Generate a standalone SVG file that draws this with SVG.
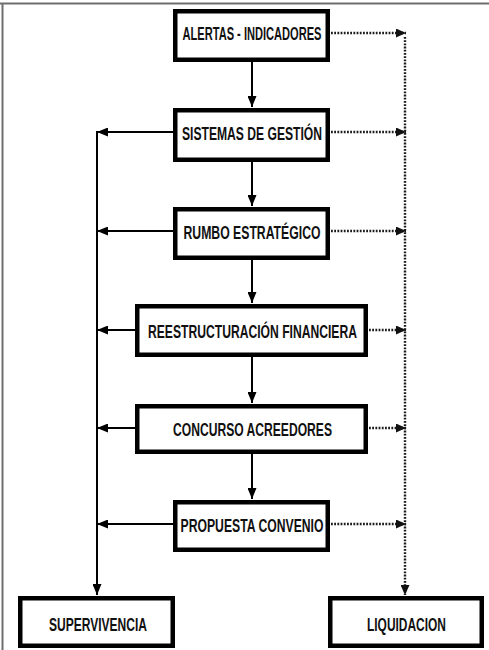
<svg xmlns="http://www.w3.org/2000/svg" width="489" height="650" viewBox="0 0 489 650">
  <style>
    .box { fill: #ffffff; stroke: #000000; stroke-width: 4.5; }
    .lbl { font-family: "Liberation Sans", Arial, sans-serif; font-weight: bold; font-size: 19px; fill: #111111; text-anchor: middle; }
    .solid { fill: none; stroke: #000000; stroke-width: 2; }
    .dot { fill: none; stroke: #1a1a1a; stroke-width: 2.4; stroke-dasharray: 1.8 1.4; }
    .frame { fill: none; stroke: #6e6e6e; stroke-width: 2; }
  </style>
  <defs>
    <marker id="head" markerUnits="userSpaceOnUse" markerWidth="11" markerHeight="9" refX="11" refY="4.5" orient="auto">
      <path d="M0,0 L11,4.5 L0,9 z" fill="#000000"/>
    </marker>
    <marker id="dhead" markerUnits="userSpaceOnUse" markerWidth="10" markerHeight="9" refX="10" refY="4.5" orient="auto">
      <path d="M0,0 L10,4.5 L0,9 z" fill="#111111"/>
    </marker>
  </defs>

  <rect width="489" height="650" fill="#ffffff"/>
  <!-- page frame -->
  <path class="frame" d="M0,3.5 H489 M2.5,3.5 V650"/>

  <!-- connectors -->
  <g id="connectors">
    <!-- main chain -->
    <line class="solid" x1="252" y1="62" x2="252" y2="107" marker-end="url(#head)"/>
    <line class="solid" x1="252" y1="162" x2="252" y2="206" marker-end="url(#head)"/>
    <line class="solid" x1="252" y1="259" x2="252" y2="303" marker-end="url(#head)"/>
    <line class="solid" x1="252" y1="357" x2="252" y2="403" marker-end="url(#head)"/>
    <line class="solid" x1="252" y1="454" x2="252" y2="499" marker-end="url(#head)"/>
    <!-- left branches to survival -->
    <line class="solid" x1="173" y1="132" x2="97" y2="132" marker-end="url(#head)"/>
    <line class="solid" x1="173" y1="231" x2="97" y2="231" marker-end="url(#head)"/>
    <line class="solid" x1="135" y1="330" x2="97" y2="330" marker-end="url(#head)"/>
    <line class="solid" x1="135" y1="428" x2="97" y2="428" marker-end="url(#head)"/>
    <line class="solid" x1="173" y1="524" x2="97" y2="524" marker-end="url(#head)"/>
    <line class="solid" x1="97" y1="131" x2="97" y2="595" marker-end="url(#head)"/>
    <!-- right branches to liquidation -->
    <line class="dot" x1="331" y1="33" x2="406" y2="33" marker-end="url(#dhead)"/>
    <line class="dot" x1="331" y1="132" x2="406" y2="132" marker-end="url(#dhead)"/>
    <line class="dot" x1="331" y1="231" x2="406" y2="231" marker-end="url(#dhead)"/>
    <line class="dot" x1="369" y1="330" x2="406" y2="330" marker-end="url(#dhead)"/>
    <line class="dot" x1="369" y1="428" x2="406" y2="428" marker-end="url(#dhead)"/>
    <line class="dot" x1="331" y1="524" x2="406" y2="524" marker-end="url(#dhead)"/>
    <line class="dot" x1="405" y1="37" x2="405" y2="595" marker-end="url(#dhead)"/>
  </g>

  <!-- nodes -->
  <g id="alertas">
    <rect class="box" x="175.25" y="11.25" width="152.5" height="48.5"/>
    <text class="lbl" x="252" y="40" textLength="139" lengthAdjust="spacingAndGlyphs">ALERTAS - INDICADORES</text>
  </g>
  <g id="sistemas">
    <rect class="box" x="175.25" y="110.25" width="152.5" height="49.5"/>
    <text class="lbl" x="252" y="139.5" textLength="140" lengthAdjust="spacingAndGlyphs">SISTEMAS DE GESTIÓN</text>
  </g>
  <g id="rumbo">
    <rect class="box" x="175.25" y="209.25" width="152.5" height="48.5"/>
    <text class="lbl" x="252" y="238.5" textLength="137" lengthAdjust="spacingAndGlyphs">RUMBO ESTRATÉGICO</text>
  </g>
  <g id="reestructuracion">
    <rect class="box" x="137.25" y="306.25" width="228.5" height="48.5"/>
    <text class="lbl" x="252.5" y="337.5" textLength="209" lengthAdjust="spacingAndGlyphs">REESTRUCTURACIÓN FINANCIERA</text>
  </g>
  <g id="concurso">
    <rect class="box" x="137.25" y="406.25" width="228.5" height="45.5"/>
    <text class="lbl" x="252.5" y="435.5" textLength="159" lengthAdjust="spacingAndGlyphs">CONCURSO ACREEDORES</text>
  </g>
  <g id="propuesta">
    <rect class="box" x="175.25" y="502.25" width="152.5" height="47.5"/>
    <text class="lbl" x="252" y="531.5" textLength="143" lengthAdjust="spacingAndGlyphs">PROPUESTA CONVENIO</text>
  </g>
  <g id="supervivencia">
    <rect class="box" x="20.25" y="598.25" width="152.5" height="47.5"/>
    <text class="lbl" x="98" y="630.5" textLength="98" lengthAdjust="spacingAndGlyphs">SUPERVIVENCIA</text>
  </g>
  <g id="liquidacion">
    <rect class="box" x="330.25" y="598.25" width="151.5" height="47.5"/>
    <text class="lbl" x="406.5" y="630.5" textLength="79" lengthAdjust="spacingAndGlyphs">LIQUIDACION</text>
  </g>
</svg>
